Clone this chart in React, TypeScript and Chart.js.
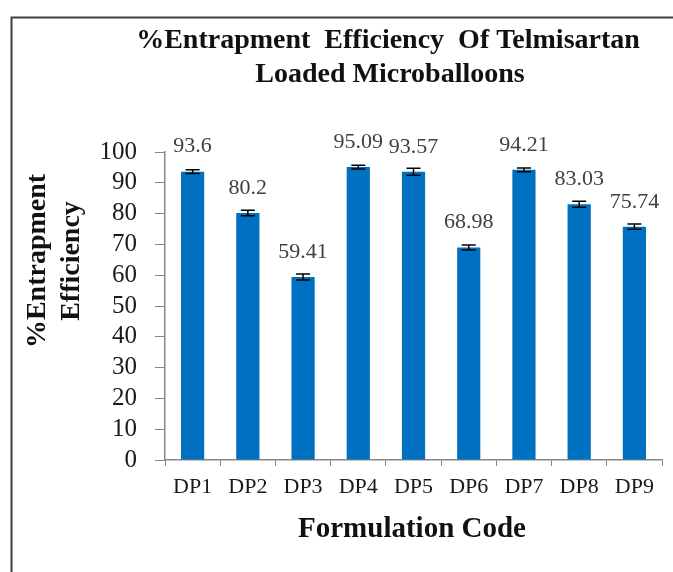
import React, { useEffect, useRef } from "react";
import { Chart, registerables } from "chart.js";

Chart.register(...registerables);

const categories = ["DP1", "DP2", "DP3", "DP4", "DP5", "DP6", "DP7", "DP8", "DP9"];
const efficiency = [93.6, 80.2, 59.41, 95.09, 93.57, 68.98, 94.21, 83.03, 75.74];
const errors = [0.6, 0.9, 1.0, 0.6, 1.15, 0.8, 0.6, 1.0, 0.85];
const titleLines = ["%Entrapment  Efficiency  Of Telmisartan", "Loaded Microballoons"];
const yTitleLines = ["%Entrapment", "Efficiency"];
const xTitle = "Formulation Code";

const SERIF = '"Liberation Serif", "Times New Roman", serif';

const decorPlugin = {
  id: "decor",
  beforeDraw(chart: any) {
    const ctx = chart.ctx;
    ctx.save();
    ctx.fillStyle = "#ffffff";
    ctx.fillRect(0, 0, chart.width, chart.height);
    ctx.strokeStyle = "#404040";
    ctx.lineWidth = 2;
    ctx.beginPath();
    ctx.moveTo(11.5, chart.height);
    ctx.lineTo(11.5, 17.5);
    ctx.lineTo(chart.width, 17.5);
    ctx.stroke();
    ctx.restore();
  },
  afterDraw(chart: any) {
    const ctx = chart.ctx;
    ctx.save();
    ctx.fillStyle = "#111111";
    ctx.font = `bold 28px ${SERIF}`;
    ctx.textAlign = "center";
    ctx.textBaseline = "alphabetic";
    ctx.fillText(titleLines[0], 388, 48);
    ctx.fillText(titleLines[1], 390, 82);

    ctx.font = `bold 29px ${SERIF}`;
    ctx.fillText(xTitle, 412, 537);

    ctx.font = `bold 28px ${SERIF}`;
    ctx.save();
    ctx.translate(0, 261);
    ctx.rotate(-Math.PI / 2);
    ctx.textBaseline = "middle";
    ctx.fillText(yTitleLines[0], 0, 38);
    ctx.fillText(yTitleLines[1], 0, 72);
    ctx.restore();
    ctx.restore();
  },
  afterDatasetsDraw(chart: any) {
    const ctx = chart.ctx;
    const meta = chart.getDatasetMeta(0);
    const yScale = chart.scales.y;
    ctx.save();
    ctx.strokeStyle = "#000000";
    ctx.lineWidth = 1.5;
    meta.data.forEach((bar: any, i: number) => {
      const v = efficiency[i];
      const e = errors[i];
      const x = bar.x;
      const yt = yScale.getPixelForValue(v + e);
      const yb = yScale.getPixelForValue(v - e);
      ctx.beginPath();
      ctx.moveTo(x, yt);
      ctx.lineTo(x, yb);
      ctx.moveTo(x - 7, yt);
      ctx.lineTo(x + 7, yt);
      ctx.moveTo(x - 7, yb);
      ctx.lineTo(x + 7, yb);
      ctx.stroke();
    });
    ctx.fillStyle = "#404040";
    ctx.font = `22px ${SERIF}`;
    ctx.textAlign = "center";
    ctx.textBaseline = "middle";
    meta.data.forEach((bar: any, i: number) => {
      ctx.fillText(String(efficiency[i]), bar.x, bar.y - 25);
    });
    ctx.restore();
  },
};

export default function App() {
  const canvasRef = useRef<HTMLCanvasElement | null>(null);

  useEffect(() => {
    const canvas = canvasRef.current;
    if (!canvas) return;
    const chart = new Chart(canvas, {
      type: "bar",
      data: {
        labels: categories,
        datasets: [
          {
            data: efficiency,
            backgroundColor: "#0070C0",
            borderWidth: 0,
            barPercentage: 0.42,
            categoryPercentage: 1,
          },
        ],
      },
      options: {
        responsive: false,
        animation: false,
        layout: { padding: { left: 0, top: 152, right: 11, bottom: 0 } },
        plugins: {
          legend: { display: false },
          title: { display: false },
          tooltip: { enabled: false },
        },
        scales: {
          x: {
            afterFit: (scale: any) => {
              scale.height = 112;
            },
            grid: {
              offset: true,
              drawOnChartArea: false,
              tickLength: 6,
              color: "#868686",
            },
            border: { color: "#868686", width: 1.5 },
            ticks: {
              color: "#1a1a1a",
              font: { family: SERIF, size: 22 },
              padding: 8,
              maxRotation: 0,
              autoSkip: false,
            },
          },
          y: {
            min: 0,
            max: 100,
            afterFit: (scale: any) => {
              scale.width = 165;
            },
            grid: {
              drawOnChartArea: false,
              tickLength: 10,
              color: "#868686",
            },
            border: { color: "#868686", width: 1.5 },
            ticks: {
              stepSize: 10,
              autoSkip: false,
              color: "#1a1a1a",
              font: { family: SERIF, size: 25 },
              padding: 18,
            },
          },
        },
      },
      plugins: [decorPlugin],
    });
    return () => chart.destroy();
  }, []);

  return (
    <div style={{ position: "fixed", left: 0, top: 0, width: 673, height: 572, background: "#fff" }}>
      <canvas ref={canvasRef} width={673} height={572} style={{ width: 673, height: 572, display: "block" }} />
    </div>
  );
}
